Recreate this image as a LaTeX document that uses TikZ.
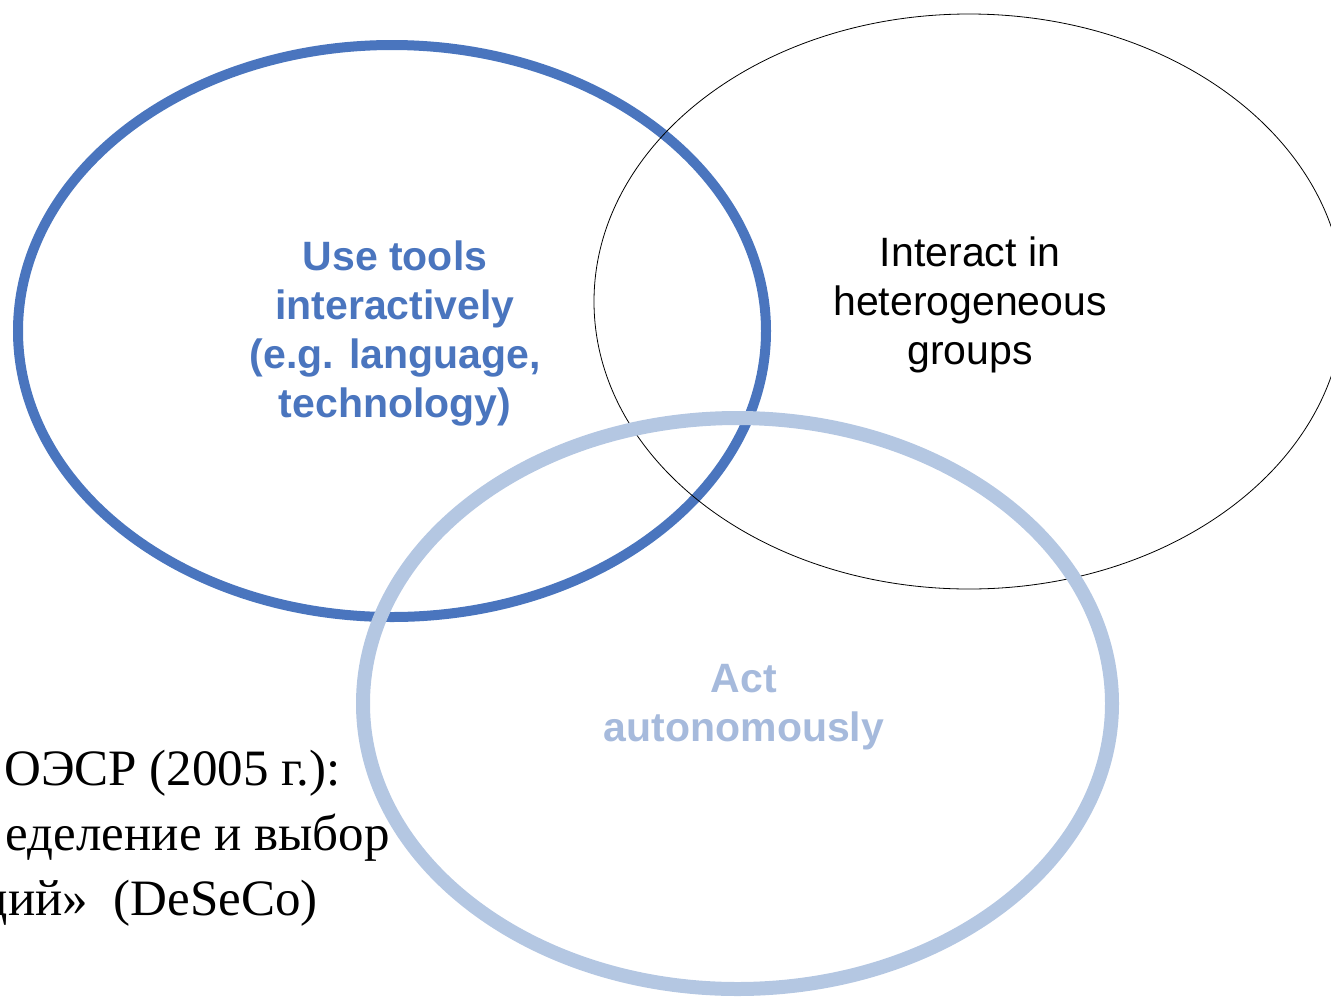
\documentclass[tikz,border=0pt]{standalone}
\usepackage{fontspec}
\setmainfont{Liberation Serif}
\setsansfont{Liberation Sans}
\usepackage{xcolor}
\definecolor{toolblue}{RGB}{74,117,190}
\definecolor{autoblue}{RGB}{180,199,226}
\definecolor{autotext}{RGB}{166,186,220}
\tikzset{
    ring/.style={line width=#1},
    label sans/.style={font=\sffamily\fontsize{41}{49}\selectfont, align=center, inner sep=0pt},
    label serif/.style={font=\fontsize{51}{65}\selectfont, inner sep=0pt}
}

\begin{document}
\begin{tikzpicture}[x=1pt,y=-1pt]
            \useasboundingbox (0,0) rectangle (1331,997);
            \clip (0,0) rectangle (1331,997);
            \draw[ring=10pt, toolblue] (392,331) ellipse [x radius=374, y radius=286];
            \draw[ring=0.8pt, black] (969,301.5) ellipse [x radius=375, y radius=287.5];
            \draw[ring=14pt, autoblue] (737.5,703.5) ellipse [x radius=374.5, y radius=285.5];
            \node[label sans, text=toolblue, font=\sffamily\bfseries\fontsize{41}{49}\selectfont] (tools) at (395,333)
                {Use tools\\interactively\\(e.g. language,\\technology)};
            \node[label sans] (groups) at (970,305)
                {Interact in\\heterogeneous\\groups};
            \node[label sans, text=autotext, font=\sffamily\bfseries\fontsize{41}{49}\selectfont] (auto) at (744,707)
                {Act\\autonomously};
            \node[label serif, anchor=base west] (oecd) at (4,785) {ОЭСР (2005 г.):};
            \node[label serif, anchor=base east] (deseco1) at (390,850) {еделение и выбор};
            \node[label serif, anchor=base east] (deseco2) at (318,915) {ций»\ \ (DeSeCo)};
        \end{tikzpicture}
\end{document}
